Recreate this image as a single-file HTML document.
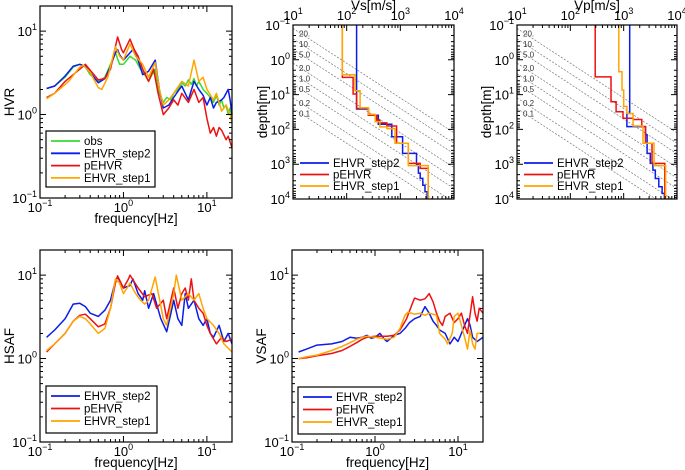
<!DOCTYPE html>
<html><head><meta charset="utf-8">
<style>
html,body{margin:0;padding:0;background:#fff;}
svg{display:block;font-family:"Liberation Sans",Arial,sans-serif;}
</style></head>
<body>
<svg id="fig" width="685" height="470" viewBox="0 0 685 470"></svg>
<script>
// ---------- HVR panel data ----------
const hvrObsF=[0.12,0.15,0.2,0.25,0.3,0.35,0.4,0.5,0.6,0.7,0.8,0.9,1.0,1.1,1.2,1.4,1.6,1.8,2.0,2.2,2.4,2.7,3.0,3.3,3.7,4,4.5,5,5.5,6,6.5,7,7.5,8,9,10,11,12,13,14,15,16,17,18,19,20];
const hvrObsV=[2.05,2.2,2.8,3.7,4.0,3.7,3.0,2.5,2.8,4.0,5.5,4.0,4.0,4.5,5.0,4.5,3.5,3.0,2.5,3.0,3.5,1.8,1.4,1.6,1.5,1.8,2.0,2.4,2.2,2.6,2.3,2.7,2.2,2.5,2.0,1.8,1.6,1.4,1.7,1.3,1.5,1.2,1.3,1.0,1.2,0.9];
const hvrS2F=[0.12,0.15,0.2,0.25,0.3,0.35,0.4,0.5,0.6,0.7,0.8,0.85,0.9,1.0,1.1,1.3,1.5,1.7,2.0,2.4,2.7,3.0,3.5,4,4.5,5,5.5,6,7,8,9,10,11,12,13,15,16,18,19,20];
const hvrS2V=[2.05,2.2,2.9,3.8,4.0,3.8,3.2,2.4,2.7,3.8,5.5,6.0,5.2,4.5,5.0,6.0,4.5,3.0,3.3,4.5,2.0,1.2,1.3,1.6,1.9,2.2,1.8,1.5,2.5,2.0,1.7,1.3,1.6,1.2,1.4,1.5,1.6,2.0,1.5,1.0];
const hvrPF=[0.12,0.15,0.2,0.3,0.35,0.4,0.5,0.6,0.7,0.8,0.85,0.95,1.0,1.2,1.35,1.5,1.7,2.0,2.3,2.6,3.0,3.5,4,4.5,5,6,7,8,9,10,11,12,13,14,15,17,18,20];
const hvrPV=[1.6,1.8,2.5,3.5,4.0,3.4,2.6,2.7,3.5,6.5,8.5,6.0,5.5,8.0,6.0,5.0,3.5,2.5,3.5,1.8,1.0,1.2,1.5,1.3,1.8,1.4,2.0,1.4,1.6,0.9,0.6,0.7,0.55,0.7,0.65,0.5,0.55,0.4];
const hvrS1F=[0.12,0.15,0.22,0.3,0.33,0.4,0.5,0.55,0.65,0.8,0.9,1.0,1.2,1.4,1.7,2.0,2.4,2.7,3.0,3.5,4,5,6,7,8,9,10,12,13,15,17,19,20];
const hvrS1V=[1.55,1.8,2.5,3.7,3.9,3.2,2.1,2.0,2.8,6.5,5.0,4.5,7.0,5.0,4.0,2.8,4.2,2.0,1.3,1.5,1.8,2.5,2.2,4.5,2.5,2.8,2.0,1.5,1.8,1.1,1.3,1.0,0.8];
// ---------- HSAF panel data ----------
const hsS2F=[0.12,0.15,0.2,0.25,0.3,0.35,0.4,0.5,0.6,0.7,0.8,0.85,1.0,1.2,1.3,1.5,1.7,1.8,2.0,2.3,2.8,3.3,3.7,4,4.5,5,5.5,6,7,8,9,10,11,12,14,16,18,20];
const hsS2V=[1.8,2.2,3.0,4.5,4.6,4.2,3.5,3.2,3.8,5.0,8.5,9.5,7.0,7.5,9.0,6.0,5.0,6.5,4.0,6.0,3.0,2.1,3.5,5.0,3.0,2.5,6.0,4.0,5.0,3.0,2.5,3.0,2.0,1.8,2.5,1.6,2.0,1.5];
const hsPF=[0.12,0.15,0.2,0.25,0.3,0.35,0.4,0.5,0.6,0.7,0.8,0.85,1.0,1.15,1.2,1.5,1.8,2.2,2.5,3,3.3,3.7,4,4.5,5,5.5,6,6.5,7,8,9,10,11,13,15,17,20];
const hsPV=[1.2,1.5,2.0,2.8,3.3,3.4,3.0,2.4,2.6,4.0,8.0,9.8,7.0,9.0,10.0,7.0,5.5,6.0,4.0,5.0,3.0,5.0,7.0,4.0,6.0,7.0,5.0,9.0,5.0,4.0,3.5,2.5,2.0,1.5,1.8,1.6,1.7];
const hsS1F=[0.12,0.15,0.2,0.25,0.3,0.35,0.4,0.5,0.6,0.7,0.8,0.9,1.0,1.2,1.4,1.6,1.8,2.0,2.4,3,3.3,4,4.3,5,6,7,8,9,10,12,14,16,20];
const hsS1V=[1.25,1.5,2.0,2.8,3.2,3.0,2.6,2.0,2.3,4.0,9.0,8.0,6.0,8.0,6.0,5.0,4.5,5.0,9.5,3.0,2.5,6.0,10.0,5.0,6.0,5.0,6.0,4.0,3.0,2.5,2.0,1.5,1.2];
// ---------- VSAF panel data ----------
const vsS2F=[0.12,0.15,0.2,0.3,0.4,0.5,0.6,0.7,0.8,0.9,1.0,1.15,1.3,1.4,1.7,2.0,2.3,2.6,3,3.5,4,4.5,5,5.5,6,7,8,9,10,11,12,13,14,15,17,20];
const vsS2V=[1.2,1.3,1.45,1.5,1.6,1.8,1.75,1.8,1.9,1.75,1.8,2.0,1.7,1.6,1.9,2.0,2.3,2.7,3.0,3.2,4.2,3.5,2.8,2.5,2.2,2.0,1.5,1.8,1.6,2.0,2.5,3.0,2.5,1.8,1.6,1.8];
const vsPF=[0.12,0.15,0.2,0.3,0.4,0.5,0.6,0.7,0.8,1.0,1.4,1.7,2.0,2.4,2.8,3.0,3.5,4,4.5,5,5.5,6,6.5,7,8,9,10,11,12,13,15,16,17,18,20];
const vsPV=[1.0,1.02,1.08,1.15,1.25,1.4,1.55,1.7,1.8,1.85,1.85,1.9,2.2,3.0,4.5,5.3,5.0,5.2,6.0,4.8,3.5,2.8,2.5,3.2,3.5,2.7,3.0,3.5,2.5,2.0,5.5,3.5,2.8,4.0,3.5];
const vsS1F=[0.12,0.15,0.2,0.3,0.4,0.5,0.6,0.7,0.8,1.0,1.4,1.7,2.0,2.3,2.5,3,3.5,4,4.5,5,5.5,6,7,7.5,8.5,9,10,11,12,13,14,15,16,17,20];
const vsS1V=[1.0,1.05,1.1,1.25,1.4,1.55,1.7,1.8,1.85,1.8,1.7,1.8,2.3,3.3,3.6,3.4,3.5,3.3,3.5,3.4,3.3,2.0,1.7,1.5,2.0,3.2,3.5,2.5,1.8,1.3,2.2,1.5,1.3,2.0,2.0];
// ---------- Vs profiles (velocity m/s, layer bottom depth m) ----------
const vsS2Vel=[153,254,389,692,1100,2000,2170,2350,2620,2880,3170];
const vsS2Dep=[26,39,71,163,490,1050,1800,2560,4000,6200,10000];
const vsPVel=[83,132,153,254,363,417,562,851,1410,2350,3300];
const vsPDep=[3.2,9.6,25,39,54,65,80,250,950,1320,10000];
const vsS1Vel=[83,143,178,254,340,417,562,794,1410,3300];
const vsS1Dep=[2.7,7.8,24,37,60,85,95,250,1100,10000];
// ---------- Vp profiles ----------
const vpS2Vel=[1300,1150,2570,2750,3160,3530,3920,4550,5250,5800];
const vpS2Dep=[35,83,144,490,950,1480,2570,4460,6900,10000];
const vpPVel=[293,580,720,970,1500,2190,2570,3400,5900];
const vpPDep=[3.1,16,31,48,52,83,250,950,10000];
const vpS1Vel=[810,930,1000,1150,1500,2300,3700,6100];
const vpS1Dep=[2.2,7.4,22,35,80,250,1100,10000];
// quarter-wavelength reference lines (frequency labels)
const qwFreq=[20,10,5,2,1,0.5,0.2,0.1];
const qwLab=["20.","10.","5.0","2.0","1.0","0.5","0.2","0.1"];

const NS="http://www.w3.org/2000/svg";
const svg=document.getElementById("fig");
function mk(tag,attrs,parent){const e=document.createElementNS(NS,tag);for(const k in attrs)e.setAttribute(k,attrs[k]);(parent||svg).appendChild(e);return e;}
const L=Math.log10;
const C={blue:"#0b1de8",red:"#ee1111",orange:"#ffa500",green:"#33dd33"};

function scale(lo,hi,p0,p1){return v=>p0+(L(v)-L(lo))/(L(hi)-L(lo))*(p1-p0);}

function pow10(g,x,y,exp,anchor,name){
  const t=mk("text",{x:x,y:y,"font-size":13,"text-anchor":anchor,fill:"#000"},g);
  
  
  t.textContent="10";
  const s=mk("tspan",{"font-size":9,dy:-6},t);s.textContent=exp;
  return t;
}

function frame(g,x0,y0,x1,y1,xs,ys,xlo,xhi,ylo,yhi){
  const r=mk("rect",{x:x0,y:y0,width:x1-x0,height:y1-y0,fill:"none",stroke:"#000","stroke-width":1.2},g);
  
  
  let d="";
  for(let e=Math.floor(L(xlo));e<=Math.ceil(L(xhi));e++){for(let m=1;m<10;m++){const v=m*Math.pow(10,e);if(v<xlo*0.999||v>xhi*1.001)continue;const x=xs(v),len=m==1?6:3;d+=`M${x} ${y1}v${-len}M${x} ${y0}v${len}`;}}
  for(let e=Math.floor(L(ylo));e<=Math.ceil(L(yhi));e++){for(let m=1;m<10;m++){const v=m*Math.pow(10,e);if(v<ylo*0.999||v>yhi*1.001)continue;const y=ys(v),len=m==1?6:3;d+=`M${x0} ${y}h${len}M${x1} ${y}h${-len}`;}}
  const p=mk("path",{d:d,stroke:"#000","stroke-width":1,fill:"none"},g);
  
  
}

function line(g,fs,vs,xs,ys,col,name,w){
  let d="";for(let i=0;i<fs.length;i++)d+=(i?"L":"M")+xs(fs[i]).toFixed(1)+" "+ys(vs[i]).toFixed(1);
  const p=mk("path",{d:d,stroke:col,"stroke-width":w||1.5,fill:"none","stroke-linejoin":"round"},g);
  
  
}
function step(g,vel,dep,xs,ys,col,name,w){
  let d=`M${xs(vel[0]).toFixed(1)} ${ys(0.1).toFixed(1)}`;
  for(let i=0;i<vel.length;i++){d+=`H${xs(vel[i]).toFixed(1)}V${ys(dep[i]).toFixed(1)}`;}
  const p=mk("path",{d:d,stroke:col,"stroke-width":w||1.5,fill:"none"},g);
  
  
}
function legend(g,x,y,entries,box,w,h,dy){
  const lg=mk("g",{},g);
  
  
  if(box){const r=mk("rect",{x:x,y:y,width:w,height:h,fill:"#fff",stroke:"#000","stroke-width":1.2},lg);
    
    }
  entries.forEach((en,i)=>{
    const yy=y+10+i*dy;
    const e=mk("g",{},lg);
    
    
    mk("line",{x1:x+5,x2:x+34,y1:yy,y2:yy,stroke:en[1],"stroke-width":1.8},e);
    const t=mk("text",{x:x+38,y:yy+4,"font-size":11.5,fill:"#000"},e);t.textContent=en[0];
  });
}
function title(g,x,y,txt,rot,name){
  const t=mk("text",{x:x,y:y,"font-size":13.5,"text-anchor":"middle",fill:"#000",transform:rot?`rotate(-90 ${x} ${y})`:""},g);
  
  
  t.textContent=txt;
}

function freqPanel(name,x0,x1,y0,y1,ylab,series,legEntries,legBox){
  const g=mk("g",{});
  
  
  const xs=scale(0.1,20,x0,x1),ys=scale(0.1,20,y1,y0);
  const cg=mk("g",{},g);
  
  
  series.forEach(s=>line(cg,s[0],s[1],xs,ys,s[2],s[3]));
  frame(g,x0,y0,x1,y1,xs,ys,0.1,20,0.1,20);
  [-1,0,1].forEach(e=>{pow10(g,x0-3,ys(Math.pow(10,e))+5,e<0?"−1":String(e),"end","y-tick-label");
    pow10(g,xs(Math.pow(10,e)),y1+14,e<0?"−1":String(e),"middle","x-tick-label");});
  title(g,(x0+x1)/2,y1+25,"frequency[Hz]",false,"x-axis-title");
  title(g,x0-26,(y0+y1)/2,ylab,true,"y-axis-title");
  legend(g,legBox[0],legBox[1],legEntries,true,legBox[2],legBox[3],legBox[4]);
}

function velPanel(name,x0,x1,y0,y1,xlab,profs){
  const g=mk("g",{});
  
  
  const xs=scale(10,1e4,x0,x1),ys=scale(0.1,1e4,y0,y1);
  const cp=mk("clipPath",{id:"c"+name},g);mk("rect",{x:x0,y:y0,width:x1-x0,height:y1-y0},cp);
  const qg=mk("g",{"clip-path":`url(#c${name})`},g);
  
  
  qwFreq.forEach((f,i)=>{
    const ln=mk("line",{x1:xs(10),y1:ys(10/(4*f)),x2:xs(1e4),y2:ys(1e4/(4*f)),stroke:"#777","stroke-width":0.7,"stroke-dasharray":"2,1.5"},qg);
    
    
    const t=mk("text",{x:x0+6,y:ys(10/(4*f))+8,"font-size":8,fill:"#333"},qg);
    
    
    t.textContent=qwLab[i];
  });
  const sg=mk("g",{"clip-path":`url(#c${name})`},g);
  
  
  profs.forEach(p=>step(sg,p[0],p[1],xs,ys,p[2],p[3]));
  frame(g,x0,y0,x1,y1,xs,ys,10,1e4,0.1,1e4);
  [-1,0,1,2,3,4].forEach(e=>pow10(g,x0-3,ys(Math.pow(10,e))+5,e<0?"−1":String(e),"end","y-tick-label"));
  [1,2,3,4].forEach(e=>pow10(g,xs(Math.pow(10,e)),y0-5,String(e),"middle","x-tick-label"));
  title(g,(x0+x1)/2,10,xlab,false,"x-axis-title");
  title(g,x0-26,(y0+y1)/2,"depth[m]",true,"y-axis-title");
  legend(g,x0+2,y1-46,[["EHVR_step2",C.blue],["pEHVR",C.red],["EHVR_step1",C.orange]],false,0,0,11.5);
}

freqPanel("hvr-panel",40,232,6,198,"HVR",
  [[hvrObsF,hvrObsV,C.green,"series-obs"],[hvrS2F,hvrS2V,C.blue,"series-ehvr-step2"],[hvrPF,hvrPV,C.red,"series-pehvr"],[hvrS1F,hvrS1V,C.orange,"series-ehvr-step1"]],
  [["obs",C.green],["EHVR_step2",C.blue],["pEHVR",C.red],["EHVR_step1",C.orange]],[46,131,109,56,12.3]);
freqPanel("hsaf-panel",40,232,250,442,"HSAF",
  [[hsS2F,hsS2V,C.blue,"series-ehvr-step2"],[hsPF,hsPV,C.red,"series-pehvr"],[hsS1F,hsS1V,C.orange,"series-ehvr-step1"]],
  [["EHVR_step2",C.blue],["pEHVR",C.red],["EHVR_step1",C.orange]],[46,386,111,47,12.5]);
freqPanel("vsaf-panel",292,483,250,442,"VSAF",
  [[vsS2F,vsS2V,C.blue,"series-ehvr-step2"],[vsPF,vsPV,C.red,"series-pehvr"],[vsS1F,vsS1V,C.orange,"series-ehvr-step1"]],
  [["EHVR_step2",C.blue],["pEHVR",C.red],["EHVR_step1",C.orange]],[298,387,107,47,12.5]);
velPanel("vs-panel",293,454,25,199,"Vs[m/s]",
  [[vsS2Vel,vsS2Dep,C.blue,"profile-ehvr-step2"],[vsPVel,vsPDep,C.red,"profile-pehvr"],[vsS1Vel,vsS1Dep,C.orange,"profile-ehvr-step1"]]);
velPanel("vp-panel",517,677,25,199,"Vp[m/s]",
  [[vpS2Vel,vpS2Dep,C.blue,"profile-ehvr-step2"],[vpPVel,vpPDep,C.red,"profile-pehvr"],[vpS1Vel,vpS1Dep,C.orange,"profile-ehvr-step1"]]);
</script>
</body></html>
